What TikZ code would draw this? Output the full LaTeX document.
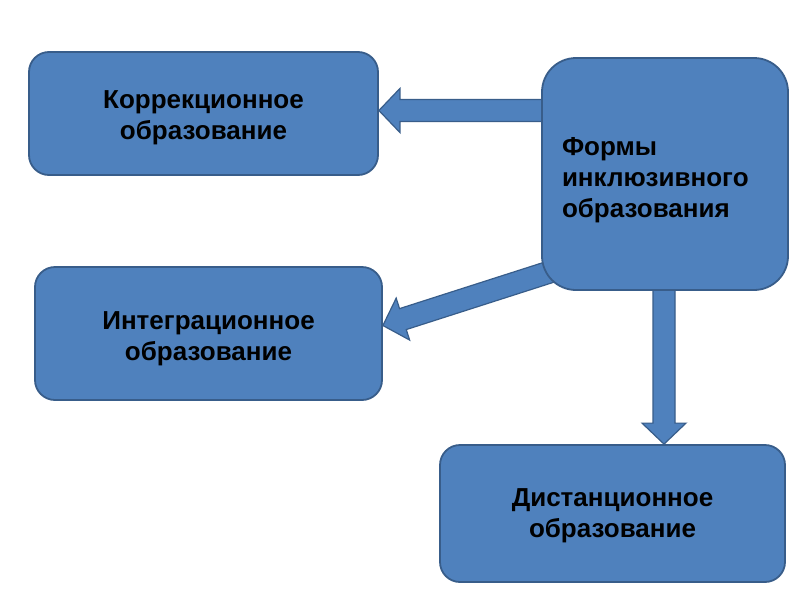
\documentclass[tikz,border=0pt]{standalone}
\usepackage{fontspec}
\setmainfont{Liberation Sans}
\usetikzlibrary{calc}
\pgfdeclarelayer{background}
\pgfsetlayers{background,main}
\definecolor{boxfill}{HTML}{4F81BD}
\definecolor{boxline}{HTML}{385D8A}
\tikzset{
  box/.style={draw=boxline, fill=boxfill, line width=1.8pt, rounded corners=20pt, inner sep=0pt},
  boxtext/.style={font=\bfseries\fontsize{26}{31}\selectfont, align=center, inner sep=0pt, anchor=center},
  barrow/.style={draw=boxline, fill=boxfill, line width=1.2pt, line join=miter},
}
\newcommand{\blockarrow}[2]{%
  \coordinate (hb) at ($(#2)!21pt!(#1)$);
  \draw[barrow] ($(#1)!11pt!90:(#2)$) -- ($(hb)!11pt!90:(#2)$) -- ($(hb)!22pt!90:(#2)$)
    -- (#2) -- ($(hb)!22pt!-90:(#2)$) -- ($(hb)!11pt!-90:(#2)$) -- ($(#1)!11pt!-90:(#2)$) -- cycle;
}
\begin{document}
\begin{tikzpicture}[x=1pt,y=-1pt]
\useasboundingbox (0,0) rectangle (800,600);
\node[box, minimum width=349pt, minimum height=123pt,
  label={[boxtext, yshift=-4pt]center:Коррекционное\\образование}] (A) at (203.5,113.5) {};
\node[box, minimum width=347pt, minimum height=133pt,
  label={[boxtext, yshift=-5pt]center:Интеграционное\\образование}] (B) at (208.5,333.5) {};
\node[box, minimum width=345pt, minimum height=137pt,
  label={[boxtext, yshift=-2pt]center:Дистанционное\\образование}] (C) at (612.5,513.5) {};
\node[box, rounded corners=34pt, minimum width=246pt, minimum height=232pt,
  label={[boxtext, align=left, text width=206pt, yshift=-6pt]center:Формы\\инклюзивного\\образования}] (F) at (665,174) {};
\coordinate (a1s) at ($(F.west |- A.east)+(10,-3)$);
\coordinate (a1t) at ($(A.east)+(0,-3)$);
\coordinate (a2s) at ($(F.south west)+(12,-20)$);
\coordinate (a2t) at ($(B.east)+(0,-8)$);
\coordinate (a3s) at ($(F.south)+(-1,-10)$);
\coordinate (a3t) at ($(C.north -| F.south)+(-1,0)$);
\begin{pgfonlayer}{background}
\fill[white] (0,0) rectangle (800,600);
\blockarrow{a1s}{a1t}
\blockarrow{a2s}{a2t}
\blockarrow{a3s}{a3t}
\end{pgfonlayer}
\end{tikzpicture}
\end{document}
